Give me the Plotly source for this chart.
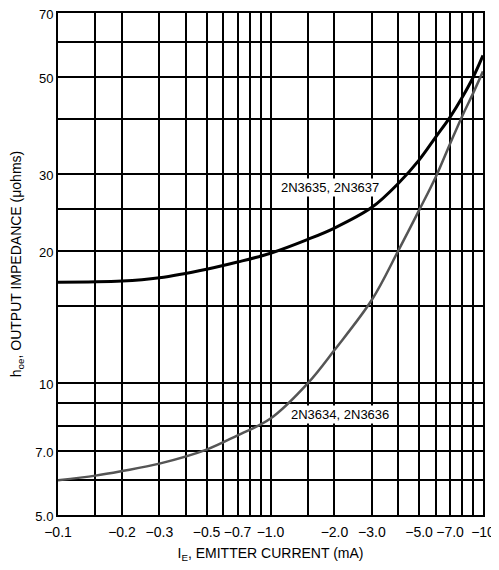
import math
import plotly.graph_objects as go

# Data (emitter current in mA, output impedance values)
ie_upper = [-0.1, -0.2, -0.3, -0.5, -0.7, -1.0, -1.5, -2.0, -3.0, -4.0, -5.0, -6.0, -7.0, -8.0, -9.0, -10.0]
hoe_upper = [17.0, 17.1, 17.4, 18.2, 18.9, 19.8, 21.3, 22.6, 25.2, 28.6, 32.3, 36.5, 40.5, 45.0, 50.0, 56.0]

ie_lower = [-0.1, -0.15, -0.2, -0.3, -0.5, -0.7, -1.0, -1.5, -2.0, -3.0, -4.0, -5.0, -6.0, -7.0, -8.0, -9.0, -10.0]
hoe_lower = [6.0, 6.15, 6.3, 6.55, 7.05, 7.6, 8.3, 10.0, 11.9, 15.5, 20.1, 24.8, 29.6, 35.2, 40.8, 46.0, 51.5]

label_upper = "2N3635, 2N3637"
label_lower = "2N3634, 2N3636"

x_grid = [0.1, 0.15, 0.2, 0.3, 0.4, 0.5, 0.6, 0.7, 0.8, 0.9, 1.0, 1.5, 2.0, 3.0, 4.0, 5.0, 6.0, 7.0, 8.0, 9.0, 10.0]
x_labels = {0.1: "−0.1", 0.2: "−0.2", 0.3: "−0.3", 0.5: "−0.5", 0.7: "−0.7", 1.0: "−1.0",
            2.0: "−2.0", 3.0: "−3.0", 5.0: "−5.0", 7.0: "−7.0", 10.0: "−10"}
y_grid = [5, 6, 7, 8, 9, 10, 15, 20, 25, 30, 40, 50, 60, 70]
y_labels = {5: "5.0", 7: "7.0", 10: "10", 20: "20", 30: "30", 50: "50", 70: "70"}

font = "Liberation Sans, Arial, sans-serif"
narrow = "Liberation Sans Narrow, Liberation Sans, Arial, sans-serif"

fig = go.Figure()
fig.add_trace(go.Scatter(x=[abs(v) for v in ie_upper], y=hoe_upper, mode="lines",
                         line=dict(color="#000000", width=3, shape="spline"),
                         showlegend=False, hoverinfo="skip"))
fig.add_trace(go.Scatter(x=[abs(v) for v in ie_lower], y=hoe_lower, mode="lines",
                         line=dict(color="#555555", width=2.5, shape="spline"),
                         showlegend=False, hoverinfo="skip"))

fig.add_annotation(x=math.log10(1.9), y=math.log10(27.9), xref="x", yref="y", text=label_upper, showarrow=False,
                   font=dict(family=font, size=13, color="#000"), bgcolor="#ffffff", borderpad=1)
fig.add_annotation(x=math.log10(2.12), y=math.log10(8.46), xref="x", yref="y", text=label_lower, showarrow=False,
                   font=dict(family=font, size=13, color="#000"), bgcolor="#ffffff", borderpad=1)

# page body has ~8px default margin; size the figure to fit the 499x570 window
fig.update_layout(
    width=491, height=562,
    margin=dict(l=50, r=16, t=5, b=55, autoexpand=False),
    paper_bgcolor="#ffffff", plot_bgcolor="#ffffff",
    font=dict(family=font, size=14, color="#000"),
)
fig.update_xaxes(type="log", range=[-1, 1], automargin=False, ticklabeloverflow="allow",
                 ticklabelstandoff=3,
                 tickmode="array", tickvals=x_grid,
                 ticktext=[x_labels.get(v, "") for v in x_grid],
                 showgrid=True, gridcolor="#000", gridwidth=1.6,
                 showline=True, linecolor="#000", linewidth=2, mirror=True,
                 ticks="", zeroline=False,
                 tickfont=dict(family=font, size=14),
                 title=dict(text="I<sub>E</sub>, EMITTER CURRENT (mA)", font=dict(family=font, size=14), standoff=9))
fig.update_yaxes(type="log", range=[math.log10(5), math.log10(70)], automargin=False, ticklabeloverflow="allow",
                 ticklabelshift=1,
                 tickmode="array", tickvals=y_grid,
                 ticktext=[y_labels.get(v, "") for v in y_grid],
                 showgrid=True, gridcolor="#000", gridwidth=1.6,
                 showline=True, linecolor="#000", linewidth=2, mirror=True,
                 ticks="", zeroline=False,
                 tickfont=dict(family=narrow, size=13),
                 title=dict(text="h<sub>oe</sub>, OUTPUT IMPEDANCE (μohms)", font=dict(family=font, size=14), standoff=12))

fig.write_html("out.html")
